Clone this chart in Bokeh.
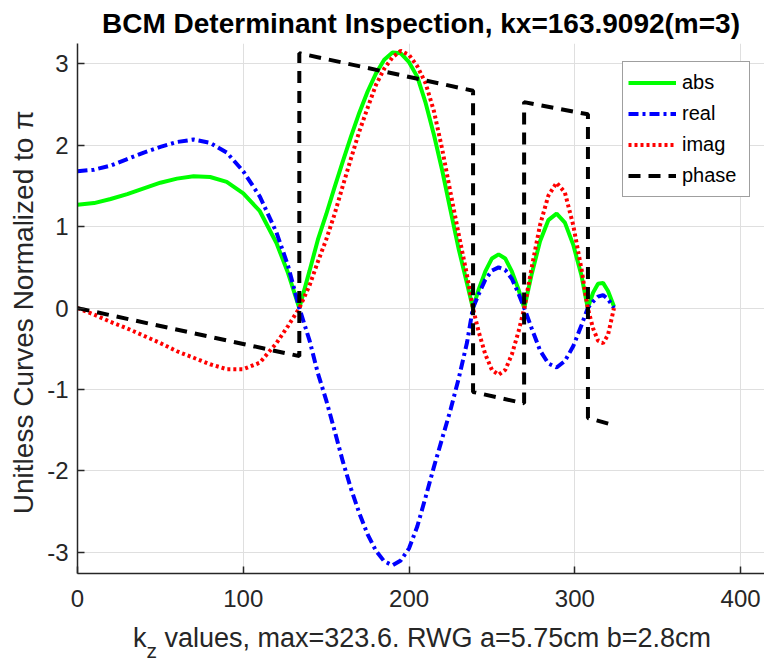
from bokeh.plotting import figure
from bokeh.models import Range1d, FixedTicker, Legend, LegendItem, Div
from bokeh.layouts import column
from bokeh.embed import file_html
from bokeh.resources import INLINE

# ---------------- data ----------------
kz = [0, 10, 20, 30, 40, 50, 60, 70, 80, 90, 100, 110, 120, 127, 133.8,
      140, 145, 150, 155, 160, 165, 170, 175, 180, 185, 190, 195, 200, 205,
      210, 215, 220, 225, 230, 235, 238.5,
      242, 246, 250, 254, 258, 262, 266, 269.5,
      274, 279, 284, 289, 294, 299, 304, 307.8,
      311, 314, 317, 320, 323.6]

abs_vals = [1.27, 1.29, 1.34, 1.40, 1.47, 1.54, 1.59, 1.62, 1.61, 1.55, 1.41, 1.19, 0.80, 0.43, 0.0,
            0.46, 0.84, 1.15, 1.48, 1.80, 2.11, 2.40, 2.66, 2.88, 3.05, 3.14, 3.13, 3.02, 2.84,
            2.52, 2.13, 1.69, 1.20, 0.72, 0.30, 0.0,
            0.23, 0.45, 0.61, 0.66, 0.61, 0.45, 0.23, 0.0,
            0.42, 0.82, 1.08, 1.16, 1.05, 0.78, 0.40, 0.0,
            0.19, 0.30, 0.31, 0.21, 0.02]

real_vals = [1.68, 1.70, 1.75, 1.83, 1.91, 1.98, 2.04, 2.07, 2.03, 1.91, 1.68, 1.37, 0.93, 0.52, 0.0,
             -0.40, -0.80, -1.13, -1.50, -1.88, -2.22, -2.52, -2.78, -2.98, -3.11, -3.16, -3.10, -2.95, -2.68,
             -2.32, -1.95, -1.60, -1.25, -0.86, -0.42, 0.0,
             0.17, 0.35, 0.46, 0.50, 0.47, 0.36, 0.18, 0.0,
             -0.25, -0.52, -0.68, -0.73, -0.65, -0.47, -0.21, 0.0,
             0.08, 0.14, 0.16, 0.11, 0.0]

imag_vals = [0.0, -0.08, -0.17, -0.25, -0.34, -0.43, -0.53, -0.61, -0.69, -0.75, -0.75, -0.67, -0.43, -0.22, 0.0,
             0.28, 0.57, 0.84, 1.15, 1.50, 1.84, 2.17, 2.46, 2.74, 2.94, 3.08, 3.16, 3.11, 2.97,
             2.76, 2.42, 1.95, 1.42, 0.90, 0.40, 0.0,
             -0.29, -0.57, -0.76, -0.82, -0.76, -0.57, -0.29, 0.0,
             0.50, 1.02, 1.38, 1.54, 1.42, 1.02, 0.48, 0.0,
             -0.25, -0.40, -0.43, -0.33, 0.0]

phase_kz = [0, 133.8, 133.8, 238.6, 238.6, 269.4, 269.4, 307.9, 307.9, 323.6]
phase_vals = [0.0, -0.59, 3.13, 2.67, -1.03, -1.17, 2.53, 2.38, -1.35, -1.44]

x_ticks = [0, 100, 200, 300, 400]
y_ticks = [-3, -2, -1, 0, 1, 2, 3]
y_tick_labels = ["-3", "-2", "-1", "0", "1", "2", "3"]
series_names = ["abs", "real", "imag", "phase"]

title_text = "BCM Determinant Inspection, kx=163.9092(m=3)"
ylabel_text = "Unitless Curves Normalized to  \u03c0"
xlabel_main = "k"
xlabel_sub = "z"
xlabel_rest = " values, max=323.6. RWG a=5.75cm b=2.8cm"

# ---------------- figure ----------------
FONT = "Liberation Sans"
AX = "#262626"

p = figure(width=764, height=620, output_backend="svg", toolbar_location=None,
           x_range=Range1d(0, 414.4), y_range=Range1d(-3.26, 3.25),
           min_border_left=77, min_border_right=0, min_border_top=43,
           min_border_bottom=47)
p.outline_line_color = None
p.background_fill_color = "white"
p.border_fill_color = "white"

p.title.text = title_text
p.title.align = "center"
p.title.text_font = FONT
p.title.text_font_size = "28px"
p.title.text_font_style = "bold"
p.title.text_color = "black"
p.title.standoff = 10

for ax in (p.xaxis[0], p.yaxis[0]):
    ax.axis_line_color = AX
    ax.axis_line_width = 1.5
    ax.major_tick_line_color = AX
    ax.major_tick_line_width = 1.5
    ax.major_tick_in = 7
    ax.major_tick_out = 0
    ax.minor_tick_in = 0
    ax.minor_tick_out = 0
    ax.major_label_text_font = FONT
    ax.major_label_text_font_size = "24px"
    ax.major_label_text_color = AX

p.xaxis.ticker = FixedTicker(ticks=x_ticks)
p.xaxis.major_label_standoff = 16
p.yaxis.ticker = FixedTicker(ticks=y_ticks)
p.yaxis.major_label_overrides = {t: s for t, s in zip(y_ticks, y_tick_labels)}
p.yaxis.major_label_standoff = 9
p.yaxis.axis_label = ylabel_text
p.yaxis.axis_label_text_font = FONT
p.yaxis.axis_label_text_font_size = "28px"
p.yaxis.axis_label_text_font_style = "normal"
p.yaxis.axis_label_text_color = AX
p.yaxis.axis_label_standoff = 5

p.xgrid.ticker = FixedTicker(ticks=x_ticks)
p.ygrid.ticker = FixedTicker(ticks=y_ticks)
p.grid.grid_line_color = "#dfdfdf"
p.grid.grid_line_width = 1

# ---------------- curves ----------------
r_abs = p.line(kz, abs_vals, line_color="#00ff00", line_width=4)
r_real = p.line(kz, real_vals, line_color="#0000ff", line_width=4, line_dash="10 4 3 4")
r_imag = p.line(kz, imag_vals, line_color="#ff0000", line_width=4, line_dash="3 3")
r_phase = p.line(phase_kz, phase_vals, line_color="black", line_width=4, line_dash="12 8")

legend = Legend(items=[LegendItem(label=n, renderers=[r]) for n, r in
                       zip(series_names, [r_abs, r_real, r_imag, r_phase])],
                location=(545, 376))
legend.border_line_color = "#404040"
legend.border_line_width = 1
legend.background_fill_color = "white"
legend.background_fill_alpha = 1
legend.padding = 5
legend.spacing = 0
legend.margin = 0
legend.glyph_width = 48
legend.glyph_height = 31
legend.label_height = 31
legend.label_width = 62
legend.label_standoff = 6
legend.label_text_font = FONT
legend.label_text_font_size = "20px"
legend.label_text_color = "black"
p.add_layout(legend)

# ---------------- x label with a real subscript, as HTML text below the figure ----------------
xlabel_html = (
    '<div style="margin:0;padding:5px 0 0 133px;white-space:nowrap;'
    'font-family:\'Liberation Sans\',Arial,sans-serif;font-size:27px;line-height:27px;'
    'color:#262626;">'
    + xlabel_main
    + '<span style="font-size:21px;position:relative;top:11px;">' + xlabel_sub + '</span>'
    + xlabel_rest.replace(" ", "&nbsp;", 1)
    + '</div>'
)
xlabel_div = Div(text=xlabel_html, width=764, height=43,
                 styles={"margin": "0", "padding": "0"})

layout = column(p, xlabel_div, spacing=0)

open("out.html", "w").write(file_html(layout, INLINE))
